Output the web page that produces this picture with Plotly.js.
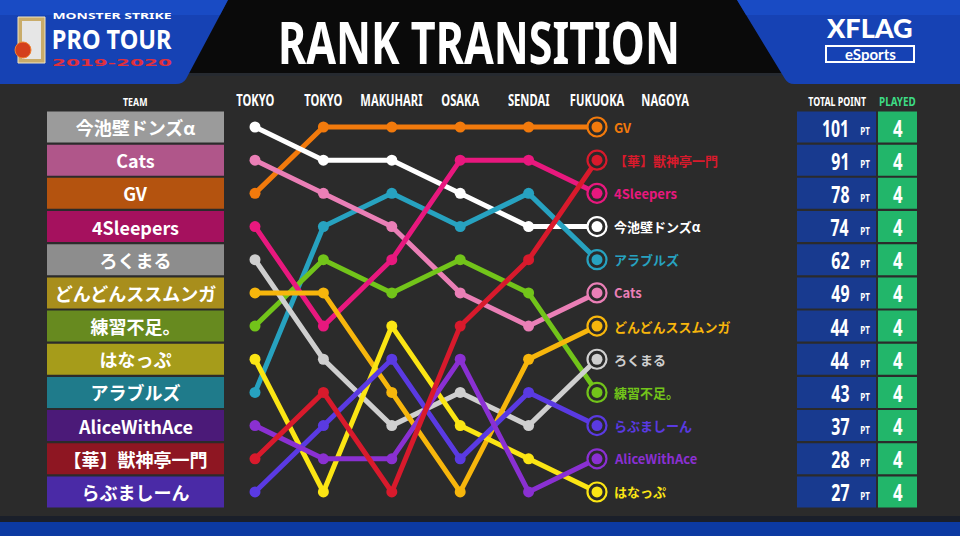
<!DOCTYPE html>
<html>
<head>
<meta charset="utf-8">
<script src="https://cdn.plot.ly/plotly-3.0.1.min.js"></script>
<style>
html,body{margin:0;padding:0;background:#2a2a2a;overflow:hidden;}
#chart{width:960px;height:536px;}
</style>
</head>
<body>
<div id="chart"></div>
<script>
// ---------------- DATA ----------------
const stages = ["TOKYO", "TOKYO", "MAKUHARI", "OSAKA", "SENDAI", "FUKUOKA", "NAGOYA"];
const teams = ["今池壁ドンズα", "Cats", "GV", "4Sleepers", "ろくまる", "どんどんススムンガ",
               "練習不足。", "はなっぷ", "アラブルズ", "AliceWithAce", "【華】獣神亭一門", "らぶましーん"];
const rImaike   = [1, 2, 2, 3, 4, 4];
const rCats     = [2, 3, 4, 6, 7, 6];
const rGV       = [3, 1, 1, 1, 1, 1];
const r4Sleep   = [4, 7, 5, 2, 2, 3];
const rRokumaru = [5, 8, 10, 9, 10, 8];
const rDondon   = [6, 6, 9, 12, 8, 7];
const rRenshu   = [7, 5, 6, 5, 6, 9];
const rHanappu  = [8, 12, 7, 10, 11, 12];
const rArab     = [9, 4, 3, 4, 3, 5];
const rAlice    = [10, 11, 11, 8, 12, 11];
const rHana     = [11, 9, 12, 7, 5, 2];
const rLove     = [12, 10, 8, 11, 9, 10];
const teamRanks = [rImaike, rCats, rGV, r4Sleep, rRokumaru, rDondon, rRenshu, rHanappu, rArab, rAlice, rHana, rLove];
const totalPoints = [74, 49, 101, 78, 44, 44, 43, 27, 62, 28, 91, 37];
const played = [4, 4, 4, 4, 4, 4, 4, 4, 4, 4, 4, 4];

// ---------------- STYLE ----------------
const lineColors = ["#ffffff", "#ea7fb6", "#f27a0c", "#e8187e", "#cfcfcf", "#f7b60c",
                    "#72c41a", "#fbe514", "#27a2c0", "#8a30d2", "#d81a2c", "#5a3ae2"];
const boxColors  = ["#9b9b9b", "#b0568a", "#b4530f", "#a5115e", "#8d8d8d", "#a88e1c",
                    "#678a1f", "#a69c1a", "#1f7b8b", "#4b1a78", "#8e1622", "#4a2aa6"];
const drawOrder = [2, 0, 8, 1, 6, 3, 4, 5, 7, 11, 9, 10];

const X0 = 255, DX = 68.4, Y0 = 127, DY = 33.18;
const xd = px => (px - X0) / DX;
const yd = py => 1 + (py - Y0) / DY;
const SANS = "Noto Sans, DejaVu Sans, sans-serif";
const JP = "Noto Sans CJK JP, Noto Sans, sans-serif";

const traces = [];

// team boxes (left)
traces.push({
  type: "bar", orientation: "h",
  y: teamRanks.map(r => r[0]),
  x: teams.map(() => xd(224) - xd(47)),
  base: xd(47), width: 31 / DY,
  marker: {color: boxColors, line: {width: 0}},
  text: teams, textposition: "inside", insidetextanchor: "middle", textangle: 0,
  textfont: {family: JP, size: 18, color: "#ffffff", weight: 700},
  constraintext: "none", hoverinfo: "skip", showlegend: false
});

const finalRanks = teamRanks.map(r => r[r.length - 1]);
// points table
traces.push({
  type: "bar", orientation: "h",
  y: finalRanks, x: teams.map(() => xd(876) - xd(797)), base: xd(797), width: 31 / DY,
  marker: {color: "#183a8f", line: {width: 0}}, hoverinfo: "skip", showlegend: false
});
traces.push({
  type: "bar", orientation: "h",
  y: finalRanks, x: teams.map(() => xd(917) - xd(878)), base: xd(878), width: 31 / DY,
  marker: {color: "#22b66a", line: {width: 0}}, hoverinfo: "skip", showlegend: false
});

// rank lines
drawOrder.forEach(i => {
  traces.push({
    type: "scatter", mode: "lines+markers",
    x: teamRanks[i].map((_, k) => k), y: teamRanks[i],
    line: {color: lineColors[i], width: 5},
    marker: {color: lineColors[i], size: 11},
    hoverinfo: "skip", showlegend: false
  });
});
// end rings
const lastIdx = teamRanks[0].length - 1;
traces.push({
  type: "scatter", mode: "markers",
  x: teams.map(() => lastIdx), y: finalRanks,
  marker: {symbol: "circle", size: 19, color: "#2a2a2a", line: {color: lineColors, width: 2.2}},
  hoverinfo: "skip", showlegend: false
});
traces.push({
  type: "scatter", mode: "markers",
  x: teams.map(() => lastIdx), y: finalRanks,
  marker: {symbol: "circle", size: 11, color: lineColors},
  hoverinfo: "skip", showlegend: false
});

// ---------------- ANNOTATIONS ----------------
const ann = [];
const condense = [];   // horizontal squeeze applied after rendering
function add(a, cond) {
  if (cond) condense.push(Object.assign({i: ann.length, a: a.xanchor || "center"}, cond));
  ann.push(a);
}
const pa = (px, py, text, font, opts) => Object.assign({
  xref: "paper", yref: "paper", x: px / 960, y: 1 - py / 536, text: text,
  showarrow: false, font: font, xanchor: "center", yanchor: "middle"
}, opts || {});

add(pa(479, 41, "RANK TRANSITION", {family: SANS, size: 60, color: "#ffffff", weight: 700}), {w: 402});
add(pa(112, 15, "MONSTER STRIKE", {family: SANS, size: 8, color: "#ffffff", weight: 700}), {w: 120});
add(pa(112, 39, "PRO TOUR", {family: SANS, size: 27, color: "#ffffff", weight: 700}), {w: 120});
add(pa(112, 63, "2019-2020", {family: "DejaVu Sans, sans-serif", size: 9, color: "#e0303c", weight: 700}), {w: 120});
add(pa(869, 27, "XFLAG", {family: "Lato, sans-serif", size: 27, color: "#ffffff", weight: 900}));
add(pa(870, 54, "eSports", {family: "Lato, sans-serif", size: 15, color: "#ffffff", weight: 700}));

add(pa(135, 101, "TEAM", {family: SANS, size: 11, color: "#ffffff", weight: 700}), {s: 0.8});
add(pa(837, 101, "TOTAL POINT", {family: SANS, size: 12, color: "#ffffff", weight: 700}), {w: 58});
add(pa(897, 101, "PLAYED", {family: SANS, size: 12, color: "#3ddc84", weight: 700}), {w: 37});

stages.forEach((s, k) => {
  add({xref: "x", yref: "paper", x: k, y: 1 - 100 / 536, text: s, showarrow: false,
       font: {family: SANS, size: 16, color: "#ffffff", weight: 700}, xanchor: "center", yanchor: "middle"}, {s: 0.7});
});

teams.forEach((t, i) => {
  add({xref: "x", yref: "y", x: xd(612), y: finalRanks[i], text: t, showarrow: false,
       font: {family: JP, size: 13, color: lineColors[i], weight: 700}, xanchor: "left", yanchor: "middle"});
  add({xref: "x", yref: "y", x: xd(851), y: finalRanks[i], text: String(totalPoints[i]), showarrow: false,
       font: {family: SANS, size: 24, color: "#ffffff", weight: 700}, xanchor: "right", yanchor: "middle"}, {s: 0.66});
  add({xref: "x", yref: "y", x: xd(865), y: finalRanks[i] + 0.13, text: "PT", showarrow: false,
       font: {family: SANS, size: 10, color: "#ffffff", weight: 700}, xanchor: "center", yanchor: "middle"}, {s: 0.8});
  add({xref: "x", yref: "y", x: xd(897.5), y: finalRanks[i], text: String(played[i]), showarrow: false,
       font: {family: SANS, size: 24, color: "#ffffff", weight: 700}, xanchor: "center", yanchor: "middle"}, {s: 0.7});
});

// ---------------- SHAPES ----------------
const P = (px, py) => xd(px).toFixed(4) + "," + yd(py).toFixed(4);
const shapes = [
  {type: "rect", xref: "paper", yref: "paper", x0: 0, x1: 1, y0: 1 - 73 / 536, y1: 1,
   fillcolor: "#0a0a0a", line: {width: 0}, layer: "below"},
  {type: "rect", xref: "paper", yref: "paper", x0: 0, x1: 1, y0: 1 - 76 / 536, y1: 1 - 73 / 536,
   fillcolor: "#262a30", line: {width: 0}, layer: "below"},
  {type: "path", path: "M" + P(0, 0) + " L" + P(228, 0) + " L" + P(186, 79) + " Q" + P(183, 84) + " " + P(176, 84) + " L" + P(0, 84) + " Z",
   fillcolor: "#1642b4", line: {width: 0}, layer: "below"},
  {type: "path", path: "M" + P(737, 0) + " L" + P(960, 0) + " L" + P(960, 84) + " L" + P(794, 84) + " Q" + P(788, 84) + " " + P(785, 79) + " Z",
   fillcolor: "#1642b4", line: {width: 0}, layer: "below"},
  {type: "path", path: "M" + P(0, 0) + " L" + P(228, 0) + " L" + P(220, 15) + " L" + P(0, 15) + " Z",
   fillcolor: "#1d52cf", line: {width: 0}, layer: "below", opacity: 0.6},
  {type: "path", path: "M" + P(737, 0) + " L" + P(960, 0) + " L" + P(960, 15) + " L" + P(746, 15) + " Z",
   fillcolor: "#1d52cf", line: {width: 0}, layer: "below", opacity: 0.6},
  // logo icon
  {type: "rect", x0: xd(18), x1: xd(45), y0: yd(17), y1: yd(63), fillcolor: "#c9ac6a", line: {color: "#efe4c4", width: 1}, layer: "below"},
  {type: "rect", x0: xd(22), x1: xd(41), y0: yd(21), y1: yd(59), fillcolor: "#e6e6e6", line: {width: 0}, layer: "below"},
  {type: "circle", x0: xd(15), x1: xd(31), y0: yd(42), y1: yd(58), fillcolor: "#d4401c", line: {color: "#f08030", width: 1}, layer: "below"},
  // eSports box
  {type: "rect", x0: xd(826), x1: xd(914), y0: yd(46), y1: yd(62), fillcolor: "rgba(0,0,0,0)", line: {color: "#ffffff", width: 2}, layer: "below"},
  // bottom strip
  {type: "rect", xref: "paper", yref: "paper", x0: 0, x1: 1, y0: 0, y1: 14 / 536, fillcolor: "#0c3aa2", line: {width: 0}, layer: "below"},
  {type: "rect", xref: "paper", yref: "paper", x0: 0, x1: 1, y0: 14 / 536, y1: 20 / 536, fillcolor: "#1a1f2a", line: {width: 0}, layer: "below"}
];

const layout = {
  width: 960, height: 536,
  margin: {l: 0, r: 0, t: 0, b: 0, pad: 0},
  paper_bgcolor: "#2b2b2b", plot_bgcolor: "rgba(0,0,0,0)",
  barmode: "overlay", showlegend: false,
  xaxis: {range: [xd(0), xd(960)], visible: false, fixedrange: true},
  yaxis: {range: [yd(536), yd(0)], visible: false, fixedrange: true},
  annotations: ann, shapes: shapes
};

Plotly.newPlot("chart", traces, layout, {displayModeBar: false, staticPlot: true}).then(gd => {
  condense.forEach(c => {
    const t = gd.querySelector('g.annotation[data-index="' + c.i + '"] text.annotation-text');
    if (!t) return;
    const bb = t.getBBox();
    if (!bb.width) return;
    const s = c.w ? c.w / bb.width : c.s;
    const ax = c.a === "right" ? bb.x + bb.width : (c.a === "left" ? bb.x : bb.x + bb.width / 2);
    t.setAttribute("transform", "translate(" + ax + ",0) scale(" + s + ",1) translate(" + (-ax) + ",0)");
  });
});
</script>
</body>
</html>
